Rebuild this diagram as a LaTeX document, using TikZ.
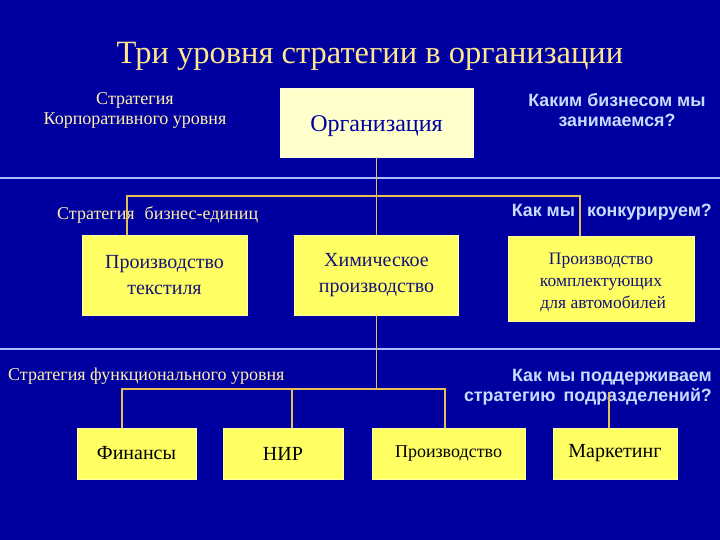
\documentclass[tikz,border=0pt]{standalone}
\usepackage{fontspec}
\setmainfont{Liberation Serif}
\newfontfamily\qfont{Liberation Sans}
\definecolor{bg}{RGB}{0,0,160}
\definecolor{titlec}{RGB}{255,232,140}
\definecolor{labelc}{RGB}{255,240,170}
\definecolor{qc}{RGB}{200,220,255}
\definecolor{sepc}{RGB}{170,190,255}
\definecolor{connc}{RGB}{230,190,90}
\definecolor{boxy}{RGB}{255,255,100}
\definecolor{boxc}{RGB}{255,255,204}
\definecolor{darkt}{RGB}{20,20,120}
\tikzset{
  ybox/.style={fill=boxy, draw=boxy!60!white, line width=0.8pt, inner sep=0pt, align=center, text=darkt, font=\fontsize{20}{26}\selectfont},
  fbox/.style={ybox, text=black, minimum height=51pt},
  conn/.style={draw=connc, line width=1.8pt},
  sep/.style={draw=sepc, line width=1.3pt},
  lbl/.style={text=labelc, font=\fontsize{18}{20}\selectfont, align=center, inner sep=0pt},
  qlbl/.style={text=qc, font=\qfont\bfseries\fontsize{17.8}{20}\selectfont, inner sep=0pt},
}
\begin{document}
\begin{tikzpicture}[x=1pt,y=-1pt]
\fill[bg] (0,0) rectangle (720,540);
\useasboundingbox (0,0) rectangle (720,540);
\node[text=titlec, font=\fontsize{32.5}{36}\selectfont] (title) at (370,56) {Три уровня стратегии в организации};
\draw[sep] (0,178) -- (720,178);
\draw[sep] (0,349) -- (720,349);
% level 1
\node[fill=boxc, draw=boxc!70!white, text=bg, minimum width=193pt, minimum height=69pt, font=\fontsize{24}{28}\selectfont] (org) at (376.5,122.5) {\rule{0pt}{23pt}Организация};
\node[lbl, align=center] (l1) at (135,110) {Стратегия\\Корпоративного уровня};
\node[qlbl, align=center] (q1) at (617,110) {Каким бизнесом мы\\занимаемся?};
% level 2
\node[ybox, minimum width=165pt, minimum height=80pt] (tex) at (164.5,275) {Производство\\текстиля};
\node[ybox, minimum width=164pt, minimum height=80pt] (chem) at (376.5,275) {Химическое\\производство};
\node[ybox, minimum width=186pt, minimum height=85pt, font=\fontsize{17.5}{22}\selectfont] (auto) at (601,279) {\rule{0pt}{19pt}Производство\\комплектующих\\\ для автомобилей};
\node[lbl, anchor=west] (l2) at (57,215) {Стратегия\hspace{10pt}бизнес-единиц};
\node[qlbl, anchor=east] (q2) at (712,212) {Как мы\hspace{12pt}конкурируем?};
\coordinate (j1) at (376.5,196);
\coordinate (a1) at (127,196);
\coordinate (a2) at (580,196);
\draw[conn] (org.south) -- (chem.north);
\draw[conn] (a1 |- tex.north) -- (a1) -- (a2) -- (a2 |- auto.north);
% level 3
\node[fbox, minimum width=119pt] (fin) at (136.5,453.5) {Финансы};
\node[fbox, minimum width=120pt] (nir) at (283,453.5) {НИР};
\node[fbox, minimum width=153pt, font=\fontsize{18}{20}\selectfont] (prod) at (448.5,453.5) {Производство};
\node[fbox, minimum width=124pt] (mark) at (615,453.5) {Маркетинг};
\node[lbl, anchor=west] (l3) at (8,376) {Стратегия функционального уровня};
\coordinate (j2) at (376.5,389);
\coordinate (d1) at (122,389);
\coordinate (d2) at (292,389);
\coordinate (d3) at (445,389);
\coordinate (d4) at (609,392);
\draw[conn] (chem.south) -- (j2);
\draw[conn] (d1 |- fin.north) -- (d1) -- (d3) -- (d3 |- prod.north);
\draw[conn] (d2) -- (d2 |- nir.north);
\node[qlbl, align=right, anchor=east] (q3) at (712,387) {Как мы поддерживаем\\стратегию\hspace{8pt}подразделений?};
\draw[conn] (d4) -- (d4 |- mark.north);
\end{tikzpicture}
\end{document}
